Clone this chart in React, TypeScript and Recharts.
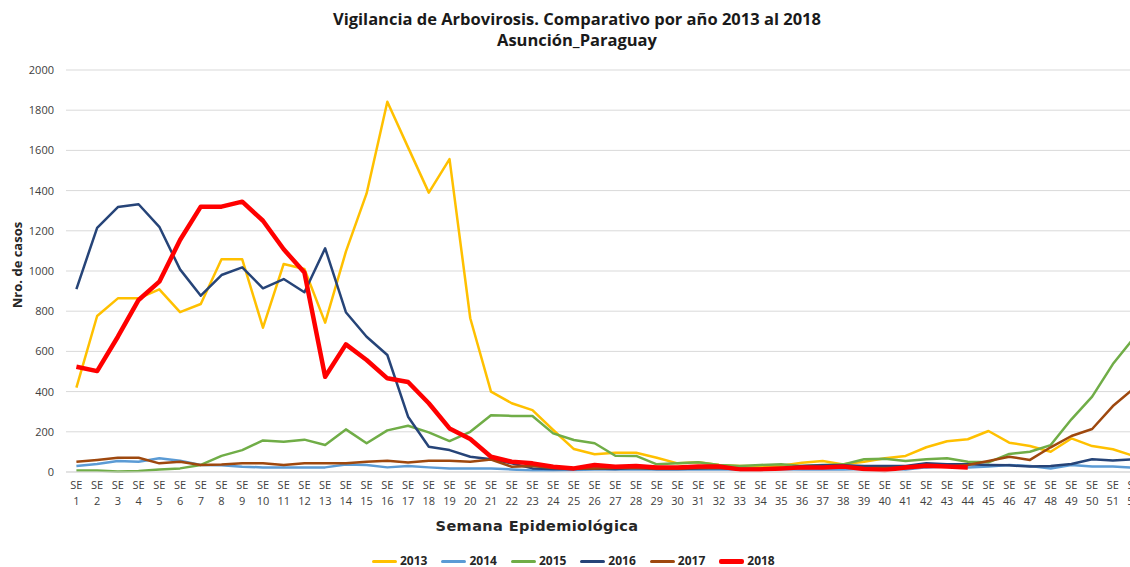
import { LineChart, Line, XAxis, YAxis, CartesianGrid } from "recharts";

const weeks = Array.from({ length: 52 }, (_, i) => `SE ${i + 1}`);

const y2013 = [420, 776, 864, 864, 909, 795, 836, 1058, 1058, 718, 1035, 1010, 743, 1096, 1386, 1842, 1615, 1390, 1557, 765, 400, 342, 308, 209, 114, 88,
  96, 96, 71, 43, 48, 35, 30, 30, 31, 46, 55, 38, 51, 68, 80, 123, 153, 163, 204, 146, 129, 101, 167, 129, 113, 80];
const y2014 = [30, 40, 55, 51, 68, 56, 35, 33, 26, 23, 23, 23, 23, 37, 35, 23, 30, 23, 18, 18, 18, 13, 7,
  7, 10, 12, 12, 14, 12, 12, 13, 12, 13, 13, 14, 12, 13, 13, 15, 18, 13, 23, 27, 22, 27, 35, 30, 17, 35, 27, 27, 22];
const y2015 = [7, 7, 3, 5, 13, 18, 35, 80, 109, 157, 151, 161, 134, 212, 143, 207, 230, 197, 154, 200, 282, 279, 279, 192, 159, 143,
  81, 80, 38, 43, 48, 35, 30, 35, 38, 30, 35, 38, 63, 66, 55, 63, 68, 51, 48, 90, 101, 134, 262, 375, 537, 665];
const y2016 = [910, 1215, 1318, 1332, 1220, 1008, 877, 980, 1018, 914, 960, 894, 1113, 795, 673, 582, 275, 126, 109, 76, 63, 43, 18,
  15, 15, 18, 15, 20, 15, 15, 18, 20, 15, 15, 18, 30, 33, 33, 30, 30, 30, 43, 38, 38, 35, 33, 27, 30, 40, 63, 57, 63];
const y2017 = [51, 60, 71, 71, 43, 51, 35, 37, 43, 43, 35, 43, 43, 43, 51, 56, 47, 56, 56, 51, 62, 26, 30,
  20, 18, 18, 20, 20, 18, 18, 20, 20, 18, 18, 20, 20, 22, 22, 20, 20, 22, 27, 27, 35, 55, 76, 60, 123, 179, 214, 328, 415];
const y2018 = [524, 502, 673, 856, 947, 1154, 1320, 1320, 1345, 1250, 1108, 992, 474, 635, 557, 466, 448, 342, 217, 164,
  76, 51, 43, 26, 18, 35, 26, 30, 22, 22, 27, 27, 13, 13, 18, 23, 22, 27, 15, 10, 22, 31, 27, 23];

const yTicks = [0, 200, 400, 600, 800, 1000, 1200, 1400, 1600, 1800, 2000];

const series = [
  { key: "2013", values: y2013, color: "#FFC000", width: 2.5 },
  { key: "2014", values: y2014, color: "#5B9BD5", width: 2.5 },
  { key: "2015", values: y2015, color: "#70AD47", width: 2.5 },
  { key: "2016", values: y2016, color: "#264478", width: 2.5 },
  { key: "2017", values: y2017, color: "#9E480E", width: 2.5 },
  { key: "2018", values: y2018, color: "#FF0000", width: 4.5 },
];

const data = weeks.map((w, i) => {
  const row: Record<string, string | number | null> = { week: w };
  series.forEach((s) => {
    row[s.key] = i < s.values.length ? s.values[i] : null;
  });
  return row;
});

const font = "'Open Sans', 'Noto Sans', sans-serif";

function WeekTick({ x, y, payload }: any) {
  const [a, b] = String(payload.value).split(" ");
  return (
    <text x={x} y={y} textAnchor="middle" fill="#404040" fontSize={11} fontFamily={font}>
      <tspan x={x} dy={15}>{a}</tspan>
      <tspan x={x} dy={16}>{b}</tspan>
    </text>
  );
}

export default function App() {
  return (
    <div style={{ position: "absolute", left: 0, top: 0, width: 1130, height: 567, overflow: "hidden", background: "#fff", fontFamily: font }}>
      <LineChart width={1160} height={567} data={data} margin={{ top: 70, right: 16, left: 0, bottom: 55 }}>
        <CartesianGrid vertical={false} stroke="#d9d9d9" />
        <XAxis
          dataKey="week"
          interval={0}
          height={40}
          padding={{ left: 10.4, right: 10.4 }}
          tick={<WeekTick />}
          tickLine={false}
          tickSize={0}
          axisLine={{ stroke: "#d9d9d9" }}
        />
        <YAxis
          width={66}
          domain={[0, 2000]}
          ticks={yTicks}
          tickLine={false}
          tickSize={0}
          tickMargin={12}
          axisLine={false}
          tick={{ fill: "#404040", fontSize: 11, fontFamily: font }}
        />
        {series.map((s) => (
          <Line
            key={s.key}
            dataKey={s.key}
            stroke={s.color}
            strokeWidth={s.width}
            dot={false}
            activeDot={false}
            isAnimationActive={false}
            strokeLinejoin="round"
          />
        ))}
      </LineChart>
      <div style={{ position: "absolute", left: 0, width: 1154, top: 8, textAlign: "center", fontWeight: 700, fontSize: 16.5, lineHeight: "21px", color: "#1a1a1a", zIndex: 2 }}>
        Vigilancia de Arbovirosis. Comparativo por año 2013 al 2018
        <br />
        Asunción_Paraguay
      </div>
      <div style={{ position: "absolute", left: 17, top: 265, transform: "translate(-50%, -50%) rotate(-90deg)", whiteSpace: "nowrap", fontWeight: 700, fontSize: 13, color: "#262626", zIndex: 2 }}>
        Nro. de casos
      </div>
      <div style={{ position: "absolute", left: 537, top: 526, transform: "translate(-50%, -50%)", whiteSpace: "nowrap", fontFamily: "'DejaVu Sans', sans-serif", fontWeight: 700, fontSize: 14.5, letterSpacing: 0.4, color: "#262626", zIndex: 2 }}>
        Semana Epidemiológica
      </div>
      <div style={{ position: "absolute", left: 372, top: 550, height: 22, display: "flex", alignItems: "center", gap: 14, fontWeight: 700, fontSize: 12, lineHeight: "22px", color: "#262626", whiteSpace: "nowrap", zIndex: 2 }}>
        {series.map((s) => (
          <div key={s.key} style={{ display: "flex", alignItems: "center" }}>
            <span style={{ display: "inline-block", width: 25, height: s.key === "2018" ? 5 : 3, background: s.color, borderRadius: 2, marginRight: 3 }} />
            <span>{s.key}</span>
          </div>
        ))}
      </div>
    </div>
  );
}
